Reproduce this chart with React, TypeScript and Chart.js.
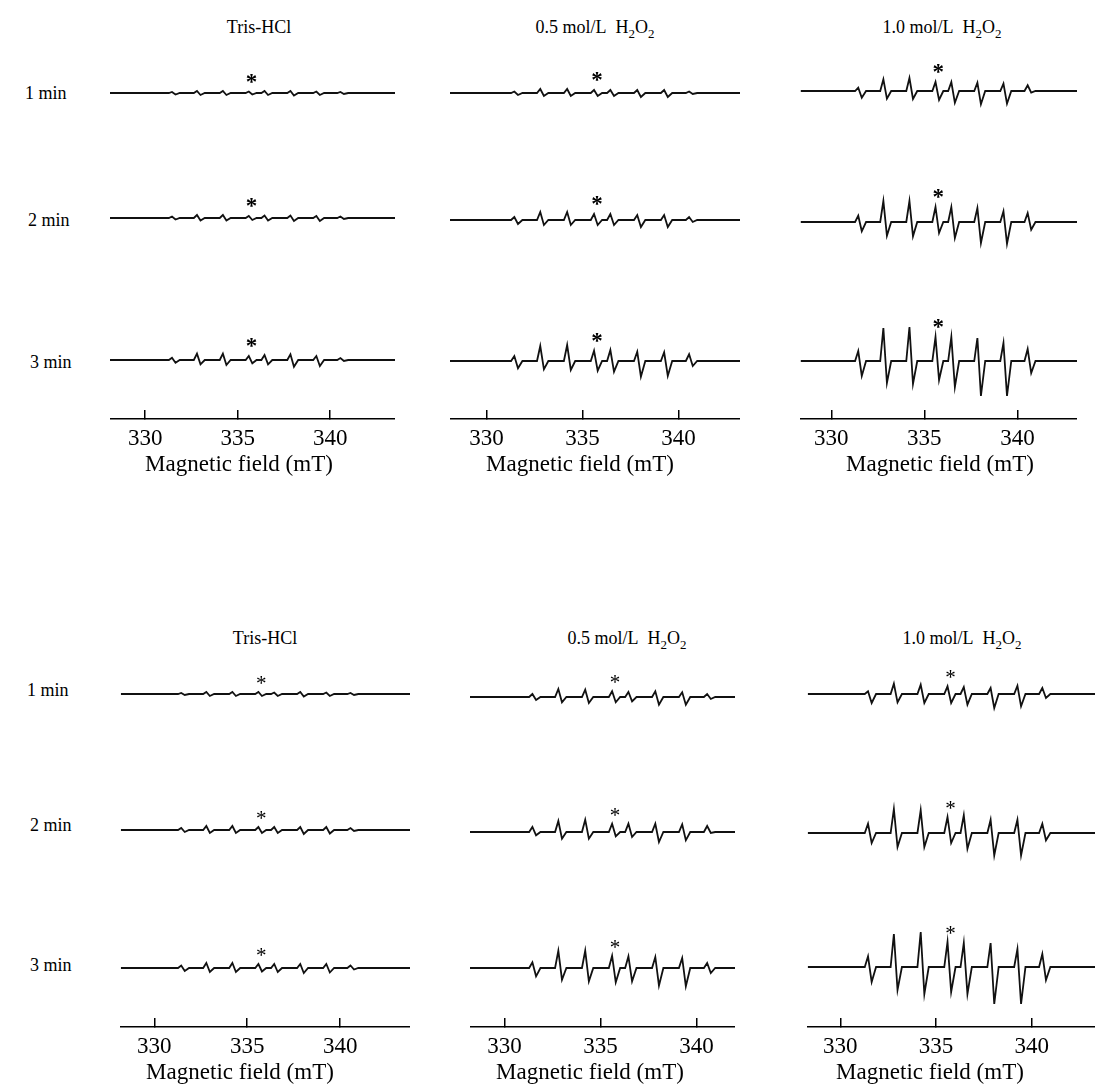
import React, { useEffect, useRef } from "react";
import { Chart, registerables } from "chart.js";

Chart.register(...registerables);

// ---------- data ----------
const FIELD_TICKS = [330, 335, 340];
// line positions (mT) of the eight derivative lines
const PEAK_FIELDS = [331.45, 332.8, 334.2, 335.6, 336.45, 337.85, 339.25, 340.55];
const STAR_FIELD = 335.75;
const ROW_LABELS = ["1 min", "2 min", "3 min"];
const AXIS_TITLE = "Magnetic field (mT)";

// upper panel: positive lobe / negative lobe heights per line, rows = 1, 2, 3 min
const TOP_TRIS_UP = [[1, 2, 2, 1.5, 2, 2, 1.5, 1], [1.5, 3, 3, 2, 2.5, 2.5, 2, 1.5], [2.3, 6.3, 6.3, 4, 5, 5.7, 4, 2]];
const TOP_TRIS_DOWN = [[1.5, 2, 2, 1.5, 2, 2.5, 2, 1], [1.5, 2.5, 2.5, 2, 2.5, 3, 3, 1], [2.7, 4.3, 5, 3.3, 4.3, 6.7, 6, 1]];
const TOP_H05_UP = [[1.5, 4, 4, 3, 3, 3, 3, 1.5], [3, 8, 8, 6, 6, 5, 5, 3], [5, 15, 16, 10.3, 11, 9.3, 8.7, 6.7]];
const TOP_H05_DOWN = [[2, 3, 3, 3, 3, 4, 4, 1], [4, 5, 5, 5, 5, 7, 7, 2], [7.3, 8.3, 9, 9.7, 10.7, 15.7, 15, 5]];
const TOP_H10_UP = [[3.3, 11.7, 13, 9, 9, 8.3, 7.3, 5.7], [6.3, 21, 21, 15, 15, 14, 10.7, 9], [10, 33, 34, 24, 24, 23, 18, 12]];
const TOP_H10_DOWN = [[6.7, 7.7, 8, 9, 11.7, 13.3, 12.7, 1.7], [9.3, 13.7, 14.3, 11, 16, 21, 21.7, 7.7], [15, 22, 23, 19, 26, 35, 35, 12]];

// lower panel
const BOT_TRIS_UP = [[1, 2, 2, 2, 1.5, 2, 1.5, 1], [2, 4, 4, 3, 3, 3, 3, 2], [2.5, 5, 5, 4, 4, 4, 4, 2.5]];
const BOT_TRIS_DOWN = [[1, 2, 2, 2, 2, 2.5, 2, 1], [2, 3, 3, 3, 3, 4, 3.5, 1], [3, 4, 4, 3.5, 4, 5, 4.5, 1.5]];
const BOT_H05_UP = [[3, 8, 7.3, 5.7, 5, 5.7, 4.7, 3], [5, 11, 12.3, 8.3, 8.3, 8.3, 7.7, 6], [5.7, 17.3, 17.3, 12.3, 11.7, 11, 10, 5]];
const BOT_H05_DOWN = [[3, 5.3, 6, 5.3, 4.3, 7.7, 7.7, 2], [3.3, 6.7, 6.7, 4.3, 5, 10, 8.3, 1], [8.3, 11.7, 13.3, 14.3, 13.3, 17.7, 18.3, 5]];
const BOT_H10_UP = [[2.7, 10.3, 9.3, 7.7, 7, 6, 8.3, 6], [9.3, 24, 22.7, 16, 17.7, 13.3, 13.3, 9.3], [10.7, 33, 35, 25, 24, 24, 18, 13]];
const BOT_H10_DOWN = [[9, 8.3, 9, 9, 10.7, 14, 12.3, 4], [10, 14, 14, 10, 15.7, 22.3, 22.3, 7.3], [15, 23, 27, 25, 27, 37, 37, 13]];

// ---------- layout ----------
const SCALE_H = 48;
const FONT = "'Liberation Serif', 'Times New Roman', serif";

type Col = {
  left: number; right: number; top: number; axisY: number;
  xMin: number; xMax: number; rowY: number[];
  up: number[][]; down: number[][];
  titleX: number;
  starFont: string; starGap: number; starDrop: number;
};

const TOP_STAR = { starFont: `bold 23px ${FONT}`, starGap: 13, starDrop: 10 };
const BOT_STAR = { starFont: `21px ${FONT}`, starGap: 11, starDrop: 9 };

const COLUMNS: Col[] = [
  { left: 110, right: 395, top: 45, axisY: 419, xMin: 328.1, xMax: 343.5, rowY: [93, 218, 360], up: TOP_TRIS_UP, down: TOP_TRIS_DOWN, titleX: 239, ...TOP_STAR },
  { left: 450, right: 740, top: 45, axisY: 419, xMin: 328.1, xMax: 343.2, rowY: [93, 220, 361], up: TOP_H05_UP, down: TOP_H05_DOWN, titleX: 580, ...TOP_STAR },
  { left: 797, right: 1077, top: 45, axisY: 419, xMin: 328.35, xMax: 343.2, rowY: [91, 222, 361], up: TOP_H10_UP, down: TOP_H10_DOWN, titleX: 940, ...TOP_STAR },
  { left: 120, right: 410, top: 655, axisY: 1027, xMin: 328.2, xMax: 343.75, rowY: [694, 830, 968], up: BOT_TRIS_UP, down: BOT_TRIS_DOWN, titleX: 240, ...BOT_STAR },
  { left: 470, right: 735, top: 655, axisY: 1027, xMin: 328.2, xMax: 342.0, rowY: [697, 832, 968], up: BOT_H05_UP, down: BOT_H05_DOWN, titleX: 590, ...BOT_STAR },
  { left: 806, right: 1095, top: 655, axisY: 1027, xMin: 328.3, xMax: 343.3, rowY: [694, 833, 967], up: BOT_H10_UP, down: BOT_H10_DOWN, titleX: 930, ...BOT_STAR },
];

function SpectrumColumn({ cfg }: { cfg: Col }) {
  const ref = useRef<HTMLCanvasElement>(null);
  useEffect(() => {
    const canvas = ref.current!;
    const plotH = cfg.axisY - cfg.top;
    let chart: Chart | null = null;
    let cancelled = false;
    const datasets = cfg.rowY.map((ry, r) => {
      const b = cfg.axisY - ry;
      const pts: { x: number; y: number }[] = [{ x: cfg.xMin, y: b }];
      PEAK_FIELDS.forEach((p, i) => {
        pts.push(
          { x: p - 0.17, y: b },
          { x: p, y: b + cfg.up[r][i] },
          { x: p + 0.19, y: b - cfg.down[r][i] },
          { x: p + 0.42, y: b }
        );
      });
      pts.push({ x: cfg.xMax, y: b });
      return {
        data: pts,
        borderColor: "#111",
        borderWidth: 1.8,
        pointRadius: 0,
        tension: 0,
        fill: false,
      };
    });
    const starPlugin = {
      id: "stars",
      afterDatasetsDraw(ch: any) {
        const { ctx, scales } = ch;
        const xs = scales.x, ys = scales.y;
        ctx.save();
        ctx.fillStyle = "#000";
        ctx.font = cfg.starFont;
        ctx.textAlign = "center";
        ctx.textBaseline = "alphabetic";
        cfg.rowY.forEach((ry, r) => {
          const b = cfg.axisY - ry;
          const cy = ys.getPixelForValue(b + cfg.up[r][3] + cfg.starGap);
          ctx.fillText("*", xs.getPixelForValue(STAR_FIELD), cy + cfg.starDrop);
        });
        ctx.restore();
      },
    };
    const make = () => {
      if (cancelled) return;
      chart = new Chart(canvas, {
        type: "line",
        data: { datasets: datasets as any },
        options: {
          animation: false,
          responsive: false,
          devicePixelRatio: 1,
          layout: { padding: 0 },
          plugins: { legend: { display: false }, tooltip: { enabled: false } },
          scales: {
            x: {
              type: "linear",
              position: "bottom",
              min: cfg.xMin,
              max: cfg.xMax,
              afterBuildTicks: (s: any) => {
                s.ticks = FIELD_TICKS.map((v) => ({ value: v }));
              },
              grid: { drawOnChartArea: false, drawTicks: true, tickLength: -9, color: "#000", lineWidth: 1.5 },
              border: { display: true, color: "#000", width: 1.5 },
              ticks: {
                color: "#000",
                padding: 17,
                maxRotation: 0,
                autoSkip: false,
                font: { family: FONT, size: 23, lineHeight: 1 },
                callback: (v: any) => String(v),
              },
              title: { display: false },
            },
            y: { type: "linear", display: false, min: 0, max: plotH },
          },
        } as any,
        plugins: [starPlugin],
      });
    };
    const fonts: any = (document as any).fonts;
    if (fonts && fonts.load) {
      Promise.all([
        fonts.load(`23px 'Liberation Serif'`),
        fonts.load(`bold 23px 'Liberation Serif'`),
      ]).then(make, make);
    } else {
      make();
    }
    return () => {
      cancelled = true;
      if (chart) chart.destroy();
    };
  }, [cfg]);
  return (
    <>
      <canvas
        ref={ref}
        width={cfg.right - cfg.left}
        height={cfg.axisY - cfg.top + SCALE_H}
        style={{ position: "absolute", left: cfg.left, top: cfg.top }}
      />
      <div
        style={{
          position: "absolute",
          left: cfg.titleX,
          top: cfg.axisY + 32,
          fontSize: 23,
          lineHeight: "26px",
          whiteSpace: "nowrap",
          transform: "translateX(-50%)",
        }}
      >
        {AXIS_TITLE}
      </div>
    </>
  );
}

const subStyle: React.CSSProperties = { fontSize: "0.72em", verticalAlign: "-0.35em", lineHeight: 0 };

function H2O2({ conc }: { conc: string }) {
  return (
    <span>
      {conc} mol/L&nbsp; H<sub style={subStyle}>2</sub>O<sub style={subStyle}>2</sub>
    </span>
  );
}

function Label({ x, y, children, center }: { x: number; y: number; children: React.ReactNode; center?: boolean }) {
  return (
    <div
      style={{
        position: "absolute",
        left: x,
        top: y - 11,
        lineHeight: "22px",
        fontSize: 18,
        whiteSpace: "nowrap",
        transform: center ? "translateX(-50%)" : undefined,
      }}
    >
      {children}
    </div>
  );
}

const TOP_LABEL_POS = [[25, 93], [28, 220], [30, 362]];
const BOT_LABEL_POS = [[27, 690], [30, 825], [30, 965]];

export default function App() {
  return (
    <div
      style={{
        position: "absolute",
        left: 0,
        top: 0,
        width: 1097,
        height: 1088,
        background: "#fff",
        color: "#000",
        fontFamily: FONT,
        overflow: "hidden",
      }}
    >
      <Label x={259} y={27} center>Tris-HCl</Label>
      <Label x={595} y={27} center><H2O2 conc="0.5" /></Label>
      <Label x={942} y={27} center><H2O2 conc="1.0" /></Label>
      <Label x={265} y={638} center>Tris-HCl</Label>
      <Label x={627} y={638} center><H2O2 conc="0.5" /></Label>
      <Label x={962} y={638} center><H2O2 conc="1.0" /></Label>
      {ROW_LABELS.map((t, i) => (
        <Label key={"t" + i} x={TOP_LABEL_POS[i][0]} y={TOP_LABEL_POS[i][1]}>{t}</Label>
      ))}
      {ROW_LABELS.map((t, i) => (
        <Label key={"b" + i} x={BOT_LABEL_POS[i][0]} y={BOT_LABEL_POS[i][1]}>{t}</Label>
      ))}
      {COLUMNS.map((c, i) => (
        <SpectrumColumn key={i} cfg={c} />
      ))}
    </div>
  );
}
